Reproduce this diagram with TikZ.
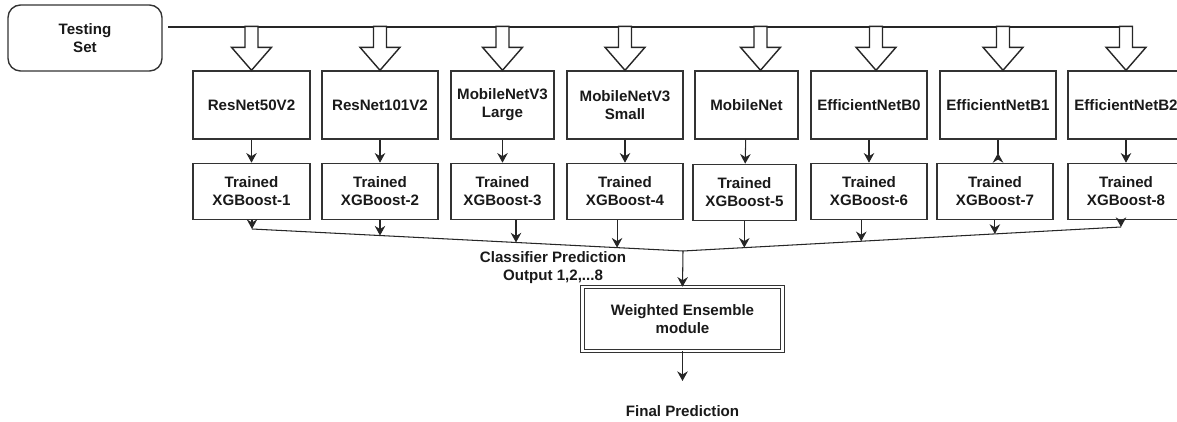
\documentclass[tikz,border=0pt]{standalone}
\usepackage{fontspec}
\setmainfont{Liberation Sans}
\usepackage{tikz}
\usetikzlibrary{arrows.meta,positioning,calc}
\tikzset
{
    netbox/.style   = {rectangle, draw=black!80, line width=0.8pt, align=center, minimum height=1.36cm, inner sep=1pt, font=\bfseries\fontsize{8.6}{10.2}\selectfont, text=black!90},
    xgbbox/.style   = {netbox, minimum height=1.12cm},
    setbox/.style   = {netbox, rounded corners=0.25cm, minimum width=3.08cm, minimum height=1.32cm},
    ensbox/.style   = {netbox, double, double distance=1.3pt, line width=0.6pt, minimum width=4.0cm, minimum height=1.27cm},
    plainlabel/.style = {align=center, inner sep=0pt, font=\bfseries\fontsize{8.6}{10.2}\selectfont, text=black!90},
    blockarrow/.style = {draw=black!85, line width=0.8pt, fill=white, line join=miter}
}
% hollow feed arrow, tip on the top of a network box
\newcommand{\feedarrow}[2][0]{%
    \draw[blockarrow, shift={($(#2.north)+(#1,0)$)}] (0,0) -- (20,-23) -- (6.5,-23) -- (6.5,-44) -- (-6.5,-44) -- (-6.5,-23) -- (-20,-23) -- cycle;}

\begin{document}
\begin{tikzpicture}[x=0.02cm, y=-0.02cm, ->, >={Stealth[length=5.5pt,width=6pt,inset=1.8pt]}, line width=0.6pt, draw=black!85]
    \clip (0,0) rectangle (1177,422);

    % input
    \node [setbox] (ts) at (85,38) {Testing \\ Set};
    \coordinate (busL) at (168,27);
    \coordinate (busR) at (1133,27);
    \draw [-] (busL) -- (busR);

    % networks
    \node [netbox, minimum width=2.34cm] (m1) at (251.5,105) {ResNet50V2};
    \node [netbox, minimum width=2.32cm] (m2) at (380,105) {ResNet101V2};
    \node [netbox, minimum width=2.06cm] (m3) at (502.5,105) {MobileNetV3 \\ Large};
    \node [netbox, minimum width=2.32cm] (m4) at (625,105) {MobileNetV3 \\ Small};
    \node [netbox, minimum width=2.06cm] (m5) at (746.5,105) {MobileNet};
    \node [netbox, minimum width=2.32cm] (m6) at (869,105) {EfficientNetB0};
    \node [netbox, minimum width=2.32cm] (m7) at (998,105) {EfficientNetB1};
    \node [netbox, minimum width=2.32cm] (m8) at (1126,105) {EfficientNetB2};

    \feedarrow{m1}
    \feedarrow{m2}
    \feedarrow{m3}
    \feedarrow{m4}
    \feedarrow[14]{m5}
    \feedarrow[7]{m6}
    \feedarrow[5]{m7}
    \feedarrow{m8}

    % classifiers
    \node [xgbbox, minimum width=2.34cm, below=0.46cm of m1] (x1) {Trained \\ XGBoost-1};
    \node [xgbbox, minimum width=2.32cm, below=0.46cm of m2] (x2) {Trained \\ XGBoost-2};
    \node [xgbbox, minimum width=2.06cm, below=0.46cm of m3] (x3) {Trained \\ XGBoost-3};
    \node [xgbbox, minimum width=2.32cm, below=0.46cm of m4] (x4) {Trained \\ XGBoost-4};
    \node [xgbbox, minimum width=2.06cm, below=0.48cm of m5, xshift=-0.04cm] (x5) {Trained \\ XGBoost-5};
    \node [xgbbox, minimum width=2.32cm, below=0.46cm of m6] (x6) {Trained \\ XGBoost-6};
    \node [xgbbox, minimum width=2.32cm, below=0.46cm of m7, xshift=-0.06cm] (x7) {Trained \\ XGBoost-7};
    \node [xgbbox, minimum width=2.32cm, below=0.46cm of m8] (x8) {Trained \\ XGBoost-8};

    \draw (m1) -- (x1);
    \draw (m2) -- (x2);
    \draw (m3) -- (x3);
    \draw (m4) -- (x4);
    \draw (m5) -- (x5);
    \draw (m6) -- (x6);
    \draw [-<] (m7.south) -- (m7.south |- x7.north);
    \draw (m8) -- (x8);

    % collecting line
    \coordinate (cl) at (252,229);
    \coordinate (jn) at (683,251);
    \coordinate (cr) at (1121,227);
    \coordinate (p2) at ($(cl)!0.297!(jn)$);
    \coordinate (p3) at ($(cl)!0.6125!(jn)$);
    \coordinate (p4) at ($(cl)!0.847!(jn)$);
    \coordinate (p5) at ($(jn)!0.14!(cr)$);
    \coordinate (p6) at ($(jn)!0.407!(cr)$);
    \coordinate (p7) at ($(jn)!0.712!(cr)$);
    \draw [-] (cl) -- (jn) -- (cr);

    \draw (x1.south -| cl) -- (cl);
    \draw (x2.south -| p2) -- (p2);
    \draw (x3.south -| p3) -- (p3);
    \draw (x4.south -| p4) -- (p4);
    \draw (x5.south -| p5) -- (p5);
    \draw (x6.south -| p6) -- (p6);
    \draw (x7.south -| p7) -- (p7);
    \draw (x8.south -| cr) -- (cr);

    \node [plainlabel] (cp) at (553,268) {Classifier Prediction \\ Output 1,2,...8};

    % ensemble
    \node [ensbox] (ens) at (682.5,319) {Weighted Ensemble \\ module};
    \draw (jn) -- (ens.north);

    \node [plainlabel, minimum height=1.2cm, anchor=north] (fp) at (682.5,381) {Final Prediction};
    \draw (ens.south) -- (fp.north);
\end{tikzpicture}
\end{document}
